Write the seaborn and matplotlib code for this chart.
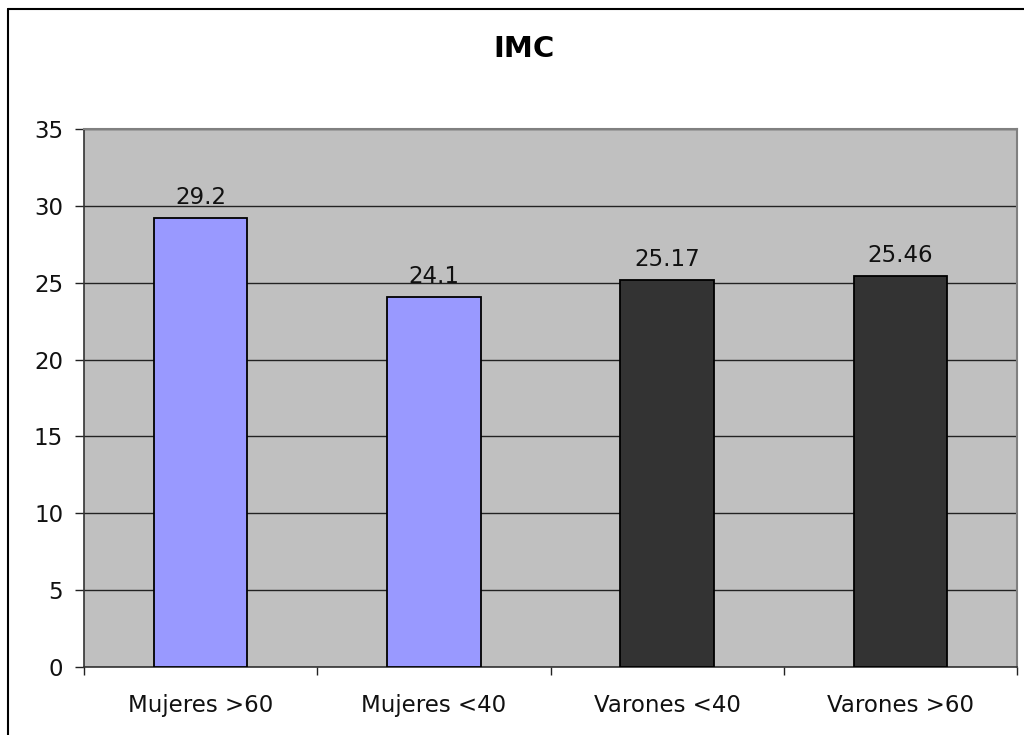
import matplotlib
matplotlib.use("Agg")
import matplotlib.pyplot as plt
from matplotlib.lines import Line2D
import seaborn as sns
import pandas as pd

categories = ["Mujeres >60", "Mujeres <40", "Varones <40", "Varones >60"]
values = [29.2, 24.1, 25.17, 25.46]
value_labels = ["29.2", "24.1", "25.17", "25.46"]
bar_colors = ["#9999FF", "#9999FF", "#333333", "#333333"]
y_ticks = [0, 5, 10, 15, 20, 25, 30, 35]
title = "IMC"

sns.set_theme(style="white")
plt.rcParams["font.family"] = ["DejaVu Sans"]

df = pd.DataFrame({"grupo": categories, "imc": values})

fig = plt.figure(figsize=(10.24, 7.35), dpi=100)
ax = fig.add_axes([84 / 1024, 1 - 667 / 735, (1017 - 84) / 1024, (667 - 129) / 735])
ax.set_facecolor("#C0C0C0")

sns.barplot(data=df, x="grupo", y="imc", hue="grupo", palette=bar_colors,
            saturation=1, width=0.4, edgecolor="black", linewidth=1.3,
            legend=False, ax=ax, zorder=3)

ax.set_xlim(-0.5, len(categories) - 0.5)
ax.set_ylim(0, 35)
ax.set_yticks(y_ticks)
ax.yaxis.grid(True, color="#222222", linewidth=1.0, zorder=1)
ax.set_axisbelow(True)
ax.set_xlabel("")
ax.set_ylabel("")

# category boundaries carry the x tick marks
ax.set_xticks([i - 0.5 for i in range(len(categories) + 1)], minor=True)
ax.tick_params(axis="x", which="major", length=0, pad=19.5, labelsize=16.5, colors="#111111")
ax.tick_params(axis="x", which="minor", length=6, width=1.0, color="#222222", bottom=True)
ax.tick_params(axis="y", which="major", length=6.5, width=1.0, color="#222222", pad=8.5,
               labelsize=16.5, labelcolor="#111111", left=True)

for side in ["left", "bottom"]:
    ax.spines[side].set_color("#333333")
    ax.spines[side].set_linewidth(1.2)
for side in ["top", "right"]:
    ax.spines[side].set_visible(True)
    ax.spines[side].set_color("#808080")
    ax.spines[side].set_linewidth(1.5)

for i, (v, lab) in enumerate(zip(values, value_labels)):
    ax.annotate(lab, (i, v), xytext=(0, 10), textcoords="offset points",
                ha="center", va="baseline", fontsize=16.5, color="#111111", zorder=4)

fig.text(524.5 / 1024, 1 - 49 / 735, title, ha="center", va="center",
         fontsize=21, fontweight="bold", color="black")

# outer frame of the chart area
fig.add_artist(Line2D([8 / 1024, 1.0], [1 - 9 / 735, 1 - 9 / 735],
                      transform=fig.transFigure, color="black", linewidth=1.5))
fig.add_artist(Line2D([8 / 1024, 8 / 1024], [0.0, 1 - 9 / 735],
                      transform=fig.transFigure, color="black", linewidth=1.5))

fig.savefig("out.png", dpi=100)
